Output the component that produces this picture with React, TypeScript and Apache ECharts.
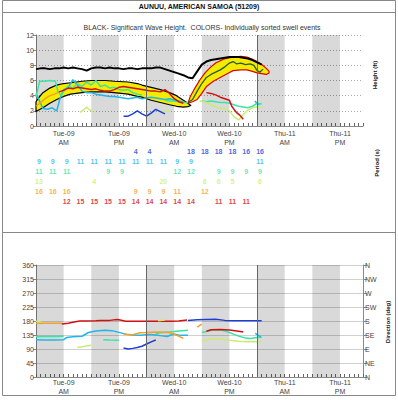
import React, { useEffect, useRef } from "react";
import * as echarts from "echarts";

const FONT = "'Liberation Sans', Arial, sans-serif";
const HOURS_MAX = 71;

// ---------- axis / category data ----------
const timeLabels: Record<number, string> = {
  6: "Tue-09\nAM", 18: "Tue-09\nPM", 30: "Wed-10\nAM",
  42: "Wed-10\nPM", 54: "Thu-11\nAM", 66: "Thu-11\nPM",
};
const nightStarts = [0, 12, 24, 36, 48, 60];
const dayBreaks = [24, 48];
const dirNames = ["N", "NE", "E", "SE", "S", "SW", "W", "NW", "N"];

// ---------- heights (hour, ft) ----------
const swh = [[0,7.5],[1,7.6],[2,7.6],[3,7.5],[4,7.6],[5,7.6],[6,7.7],[7,7.6],[8,7.7],[9,7.6],[10,7.5],[11,7.3],[12,7.6],[13,7.7],[14,7.7],[15,7.6],[16,7.7],[17,7.6],[18,7.6],[19,7.5],[20,7.6],[21,7.6],[22,7.5],[23,7.6],[24,7.6],[25,7.6],[26,7.7],[27,7.7],[28,7.5],[29,7.3],[30,7.1],[31,6.9],[32,6.7],[33,6.4],[34,6.3],[35,7.2],[36,8.1],[37,8.5],[38,8.7],[39,8.8],[40,8.9],[41,9.0],[42,9.1],[43,9.1],[44,9.1],[45,9.0],[46,8.9],[47,8.7],[48,8.4],[49,8.1]];
const band1Upper = [[0,3.2],[0.7,3.8],[1.5,4.4],[3,5.0],[4.5,5.4],[6,5.6],[7.5,5.7],[10,5.9],[12,6.0],[15,6.0],[17,5.9],[20,5.8],[22,5.6],[23,5.4],[25,5.1],[27,4.8],[29,4.4],[30.5,4.0],[32,3.4],[33,3.0],[33.6,2.7]];
const band1Lower = [[0,1.9],[1.5,2.4],[3,3.0],[4.5,3.5],[6,3.9],[7.5,4.2],[10,4.4],[12,4.5],[15,4.5],[17,4.4],[20,4.2],[22,3.9],[23,3.8],[25,3.4],[27,3.1],[29,2.8],[30.5,2.6],[32,2.5],[33,2.55]];
const band2Upper = [[33,3.0],[33.5,3.9],[34.5,5.0],[35.6,6.1],[36.7,7.0],[37.8,7.7],[39,8.3],[40.7,8.8],[42.8,9.1],[44.5,9.2],[45.8,9.1],[47,8.8],[48,8.5],[49,8.1],[50,7.6],[50.6,7.2]];
const band2Lower = [[33,3.0],[34,3.2],[35,3.5],[36,4.3],[37,5.2],[38.5,5.9],[40,6.4],[41.5,6.9],[42.8,7.3],[44.5,7.4],[45.8,7.4],[47,7.2],[48,7.0],[49,6.9],[50,6.8],[50.6,7.0]];
const hInner2 = [[33,3.1],[34,3.5],[35,4.6],[36,5.6],[37,6.4],[38,6.8],[39,7.1],[40,7.4],[41,7.8],[42,8.3],[42.8,8.5],[43.5,8.2],[44.5,8.3],[45.5,8.1],[46.5,8.2],[47.3,8.0],[48,7.3],[48.6,7.1],[49.3,7.5]];
const hRed1 = [[5,4.5],[6,4.7],[7,5.0],[8,4.9],[9,5.1],[10,5.0],[11,4.9],[12,4.8],[13,4.9],[14,4.7],[15,4.6],[16,4.6],[17,4.8],[18,5.1],[19,5.2],[20,5.1],[21,5.0],[22,4.9],[23,4.8],[24,4.7],[25,4.6],[26,4.6],[27,4.5],[28,4.8],[29,4.3],[30,3.6],[31,3.2],[32,3.0]];
const hOrange1 = [[0,2.6],[1,3.1],[2,3.6],[3,4.0],[4,4.2],[5,4.5]];
const hCyan1 = [[0,4.3],[0.7,3.4],[1.5,2.3],[2.5,2.2],[3.5,2.4],[4.5,2.0],[5.2,3.6],[6,4.8],[7,5.1],[8,6.1],[9,5.4],[10,4.6],[11,4.4],[12,4.4],[13,4.2],[14,4.1],[15,4.0],[16,3.9],[17,3.9],[18,3.8],[19,3.7],[20,3.6],[21,3.7],[22,3.8],[23,3.6],[24,3.7],[25,3.8],[26,3.7],[27,3.6],[28,3.5],[29,3.6],[30,3.4],[31,3.3],[32,3.2]];
const hCyan2 = [[47.5,3.3],[48,3.0],[48.5,2.8]];
const hTeal1 = [[0,3.8],[0.8,5.9],[2,5.9],[3,6.0],[4.2,5.9],[4.8,4.5],[5.5,4.0],[6,4.6],[7,5.3],[8,5.0],[9,5.6],[10,5.2],[11,5.8],[12,5.4],[13,6.0],[14,5.2],[15,5.4],[16,5.0],[17,5.1],[18,4.8],[19,4.7],[20,4.8],[21,4.4],[22,4.2],[23,4.1]];
const hTeal2 = [[28,3.4],[29,3.3],[30,3.3],[31,3.2],[32,3.1],[33,3.1]];
const hTeal3 = [[36,3.3],[37,3.2],[38,3.3],[39,3.2],[40,3.1],[41,3.1],[42,3.0],[43,2.8],[44,2.6],[45,2.5],[46,2.4],[47,2.6],[48,3.0],[49,2.9]];
const hLime1 = [[9.5,1.8],[10.5,2.2],[11,2.5],[11.5,2.2],[12.5,1.8]];
const hLime2 = [[27,1.9],[28,1.9],[29,1.9]];
const hLime3 = [[35.5,3.3],[36.5,3.2],[38,2.8],[39.5,2.4],[41,2.3],[42,2.0],[43,1.2],[44,0.8],[45,1.5],[46,2.1],[47,2.4],[48,2.5],[49,2.5]];
const hBlue1 = [[19,1.3],[20,1.3],[21,1.6],[22,2.0],[23,1.6],[24,1.3],[25,1.7],[26,2.2],[27,1.9],[28,1.6]];
const hRed2 = [[37,4.4],[38,4.3],[39,4.1],[40,3.8],[41,3.6],[42,3.4],[42.5,2.6],[43.5,1.8],[44.3,1.4],[45,0.9]];

// ---------- periods (hour, seconds) by row ----------
const perBlue = [[21,4],[24,4],[33,18],[36,18],[39,18],[42,18],[45,16],[48,16]];
const perCyan = [[0,9],[3,9],[6,9],[9,11],[12,11],[15,11],[18,11],[21,11],[24,11],[27,11],[30,9],[33,9],[48,11]];
const perTeal = [[0,11],[3,11],[6,11],[15,9],[18,9],[30,12],[33,12],[39,9],[42,9],[45,9],[48,9]];
const perLime = [[0,13],[12,4],[27,20],[36,6],[39,6],[42,5],[48,6]];
const perOrange = [[0,16],[3,16],[6,16],[21,9],[24,9],[27,9],[30,11],[36,12]];
const perRed = [[6,12],[9,15],[12,15],[15,15],[18,15],[21,14],[24,14],[27,14],[30,14],[33,14],[39,11],[42,11],[45,11]];

// ---------- directions (hour, deg) ----------
const dOrange1 = [[0,172],[2,173],[4,173],[5.6,173]];
const dRed1 = [[5.6,170],[7,173],[8,176],[9.5,180],[11,180],[13,181],[14,182],[16,182],[17.6,185],[18,184],[19.5,179],[21,179],[23,179],[25,179],[27,179],[29,179],[31,180],[32.8,183]];
const dLime0 = [[0,179],[1.2,176]];
const dTeal1 = [[0,129],[2,130],[4,130],[6,131]];
const dTeal2 = [[14.6,120],[16,119],[18,118]];
const dTeal3 = [[26,139],[27,142],[29,145],[31,148],[33,150]];
const dTeal4 = [[36,143],[37,146],[38.5,151],[40,152],[41,148],[42,143],[43,137],[44.3,130],[45.5,125],[46.5,124],[48,127],[49,128]];
const dCyan1 = [[0,120],[2,119],[4,119],[6,120],[6.7,127],[8,129],[10,131],[11.4,143],[13,148],[15,150],[16.5,149],[17.6,145],[19.7,137],[21,135],[22.6,134],[24,136],[24.8,137],[26,135],[27,133],[28.5,130],[29.8,138],[31,135],[32,134],[33,134]];
const dCyan2 = [[47.6,140],[48.3,134],[48.8,128]];
const dOrange2 = [[19,138],[20,137],[21,136],[22.6,142],[24,143],[26.3,145],[28,144],[29,142],[30,138],[31.3,129],[32,124]];
const dOrange3 = [[35,160],[36,170]];
const dBlue1 = [[19,93],[20,90],[21,92],[22,95],[23,99],[24,106],[25,113],[26,119]];
const dBlue2 = [[33,182],[35,184],[37,185],[39,186],[41,182],[43,181],[45,181],[47,181],[49,181]];
const dRed2 = [[37,147],[38,152],[40,153],[42,151],[44,147],[45,145]];
const dLime1 = [[9,95],[10,97],[11,100],[12,102]];
const dLime2 = [[26.5,181],[28,183]];
const dLime3 = [[36,117],[37,118],[38,122],[39,124],[40,122],[42,118],[44,115],[45.8,113],[47,113],[49,113]];

const COL = {
  blue: "#1e3ed2", cyan: "#1fb6ea", teal: "#3de3a6", lime: "#c9ec74",
  orange: "#f0a126", red: "#d11111", yellow: "#f3ec00", inner: "#2f5a2a",
};

function timeAxis(gridIndex: number, show: boolean, margin: number) {
  return {
    type: "value", gridIndex, min: 0, max: HOURS_MAX, interval: 6, show,
    axisLine: { show: true, onZero: false, lineStyle: { color: "#888" } },
    axisTick: { show: true, inside: true, length: 3, lineStyle: { color: "#666" } },
    minorTick: { show: true, splitNumber: 6, length: 3, lineStyle: { color: "#666" } },
    splitLine: { show: false },
    axisLabel: {
      formatter: (v: number) => timeLabels[v] || "",
      color: "#444", fontSize: 7, fontFamily: FONT, lineHeight: 9, margin,
    },
  };
}

function line(data: number[][], color: string, gi: number, width = 1.5, z = 3) {
  return {
    type: "line", data, xAxisIndex: gi, yAxisIndex: gi === 0 ? 0 : gi === 1 ? 1 : 2,
    showSymbol: false, symbol: "none", lineStyle: { color, width }, z, silent: true,
  };
}

function bandSeries(upper: number[][], lower: number[][], stroke: string) {
  return {
    type: "custom", xAxisIndex: 0, yAxisIndex: 0, data: [[0, 0]], z: 2, silent: true,
    renderItem: (_p: any, api: any) => {
      const pts = [...upper, ...lower.slice().reverse()].map((p) => api.coord(p));
      return {
        type: "polygon",
        shape: { points: pts },
        style: { fill: COL.yellow, stroke, lineWidth: 1.2, lineJoin: "round" },
      };
    },
  };
}

function backdrop(gi: number, yi: number) {
  return {
    type: "line", xAxisIndex: gi, yAxisIndex: yi, data: [[0, 0]], symbol: "none",
    lineStyle: { opacity: 0 }, z: 1, silent: true,
    markArea: {
      silent: true, itemStyle: { color: "rgba(0,0,0,0.15)" },
      data: nightStarts.map((s) => [{ xAxis: s }, { xAxis: s + 6 }]),
    },
    markLine: {
      silent: true, symbol: ["none", "none"], label: { show: false },
      lineStyle: { color: "#666", width: 1, type: "solid" },
      data: dayBreaks.map((x) => ({ xAxis: x })),
    },
  };
}

function periodRow(rows: number[][], rowIdx: number, color: string) {
  return {
    type: "scatter", xAxisIndex: 1, yAxisIndex: 1, symbolSize: 1,
    itemStyle: { color: "rgba(0,0,0,0)" }, silent: true,
    data: rows.map(([h, v]) => [h, rowIdx, v]),
    label: {
      show: true, position: "inside", offset: [3, 0],
      formatter: (p: any) => String(p.value[2]),
      color, fontSize: 7, fontWeight: "bold", fontFamily: FONT,
    },
  };
}

export default function App() {
  const ref = useRef<HTMLDivElement>(null);
  useEffect(() => {
    if (!ref.current) return;
    const chart = echarts.init(ref.current, null, { renderer: "svg" });
    const option: any = {
      animation: false,
      backgroundColor: "#fff",
      textStyle: { fontFamily: FONT },
      grid: [
        { left: 36, top: 35, width: 327, height: 91 },
        { left: 36, top: 146, width: 327, height: 60 },
        { left: 36, top: 265, width: 327, height: 112 },
      ],
      xAxis: [timeAxis(0, true, 3), timeAxis(1, false, 3), timeAxis(2, true, 1)],
      yAxis: [
        {
          type: "value", gridIndex: 0, min: 0, max: 12, interval: 2,
          axisLine: { show: true, lineStyle: { color: "#888" } },
          axisTick: { show: true, length: 3, lineStyle: { color: "#888" } },
          splitLine: { show: true, lineStyle: { color: "#aaa", type: [1, 2] } },
          axisLabel: { color: "#444", fontSize: 7, fontFamily: FONT, margin: 2 },
        },
        {
          type: "category", gridIndex: 1, data: ["0", "1", "2", "3", "4", "5"],
          inverse: true, show: false,
        },
        {
          type: "value", gridIndex: 2, min: 0, max: 360, interval: 45,
          axisLine: { show: true, lineStyle: { color: "#888" } },
          axisTick: { show: true, length: 3, lineStyle: { color: "#888" } },
          splitLine: { show: true, lineStyle: { color: "#d0d0d0" } },
          axisLabel: { color: "#444", fontSize: 7, fontFamily: FONT, margin: 2 },
        },
        {
          type: "value", gridIndex: 2, min: 0, max: 360, interval: 45, position: "right",
          axisLine: { show: true, lineStyle: { color: "#888" } },
          axisTick: { show: true, length: 4, lineStyle: { color: "#888" } },
          splitLine: { show: false },
          axisLabel: {
            color: "#444", fontSize: 7, fontFamily: FONT, margin: 2,
            formatter: (v: number) => dirNames[Math.round(v / 45)] || "",
          },
        },
      ],
      series: [
        backdrop(0, 0),
        backdrop(2, 2),
        bandSeries(band1Upper, band1Lower, "#000"),
        bandSeries(band2Upper, band2Lower, "#e00000"),
        line(hCyan1, COL.cyan, 0),
        line(hCyan2, COL.cyan, 0),
        line(hTeal1, COL.teal, 0),
        line(hTeal2, COL.teal, 0),
        line(hTeal3, COL.teal, 0),
        line(hLime1, COL.lime, 0),
        line(hLime2, COL.lime, 0),
        line(hLime3, COL.lime, 0),
        line(hBlue1, COL.blue, 0),
        line(hOrange1, COL.orange, 0),
        line(hRed1, COL.red, 0),
        line(hRed2, COL.red, 0),
        line(hInner2, COL.inner, 0, 1.3, 4),
        line(swh, "#000", 0, 2, 5),
        periodRow(perBlue, 0, COL.blue),
        periodRow(perCyan, 1, COL.cyan),
        periodRow(perTeal, 2, COL.teal),
        periodRow(perLime, 3, COL.lime),
        periodRow(perOrange, 4, COL.orange),
        periodRow(perRed, 5, COL.red),
        line(dLime0, COL.lime, 2),
        line(dOrange1, COL.orange, 2),
        line(dRed1, COL.red, 2),
        line(dTeal1, COL.teal, 2),
        line(dTeal2, COL.teal, 2),
        line(dTeal3, COL.teal, 2),
        line(dTeal4, COL.teal, 2),
        line(dCyan1, COL.cyan, 2),
        line(dCyan2, COL.cyan, 2),
        line(dOrange2, COL.orange, 2),
        line(dOrange3, COL.orange, 2),
        line(dBlue1, COL.blue, 2),
        line(dBlue2, COL.blue, 2),
        line(dRed2, COL.red, 2),
        line(dLime1, COL.lime, 2),
        line(dLime2, COL.lime, 2),
        line(dLime3, COL.lime, 2),
      ],
      graphic: [
        { type: "rect", silent: true, shape: { x: 2.5, y: 0.5, width: 393, height: 395 }, style: { fill: "none", stroke: "#888", lineWidth: 1 } },
        { type: "line", silent: true, shape: { x1: 3, y1: 12.5, x2: 395, y2: 12.5 }, style: { stroke: "#888", lineWidth: 1 } },
        { type: "line", silent: true, shape: { x1: 3, y1: 232.5, x2: 395, y2: 232.5 }, style: { stroke: "#888", lineWidth: 1 } },
        { type: "text", silent: true, x: 199, y: 6.5, style: { text: "AUNUU, AMERICAN SAMOA (51209)", font: `bold 7px ${FONT}`, fill: "#111", align: "center", verticalAlign: "middle" } },
        { type: "text", silent: true, x: 202, y: 27, style: { text: "BLACK- Significant Wave Height.  COLORS- Individually sorted swell events", font: `7px ${FONT}`, fill: "#333", align: "center", verticalAlign: "middle" } },
        { type: "text", silent: true, x: 375, y: 75, rotation: Math.PI / 2, style: { text: "Height (ft)", font: `bold 6px ${FONT}`, fill: "#111", align: "center", verticalAlign: "middle" } },
        { type: "text", silent: true, x: 377, y: 163, rotation: Math.PI / 2, style: { text: "Period (s)", font: `bold 6px ${FONT}`, fill: "#111", align: "center", verticalAlign: "middle" } },
        { type: "text", silent: true, x: 388, y: 322, rotation: Math.PI / 2, style: { text: "Direction (deg)", font: `bold 6px ${FONT}`, fill: "#111", align: "center", verticalAlign: "middle" } },
      ],
    };
    chart.setOption(option);
    return () => chart.dispose();
  }, []);
  return <div ref={ref} style={{ width: 398, height: 400, position: "absolute", left: 0, top: 0 }} />;
}
